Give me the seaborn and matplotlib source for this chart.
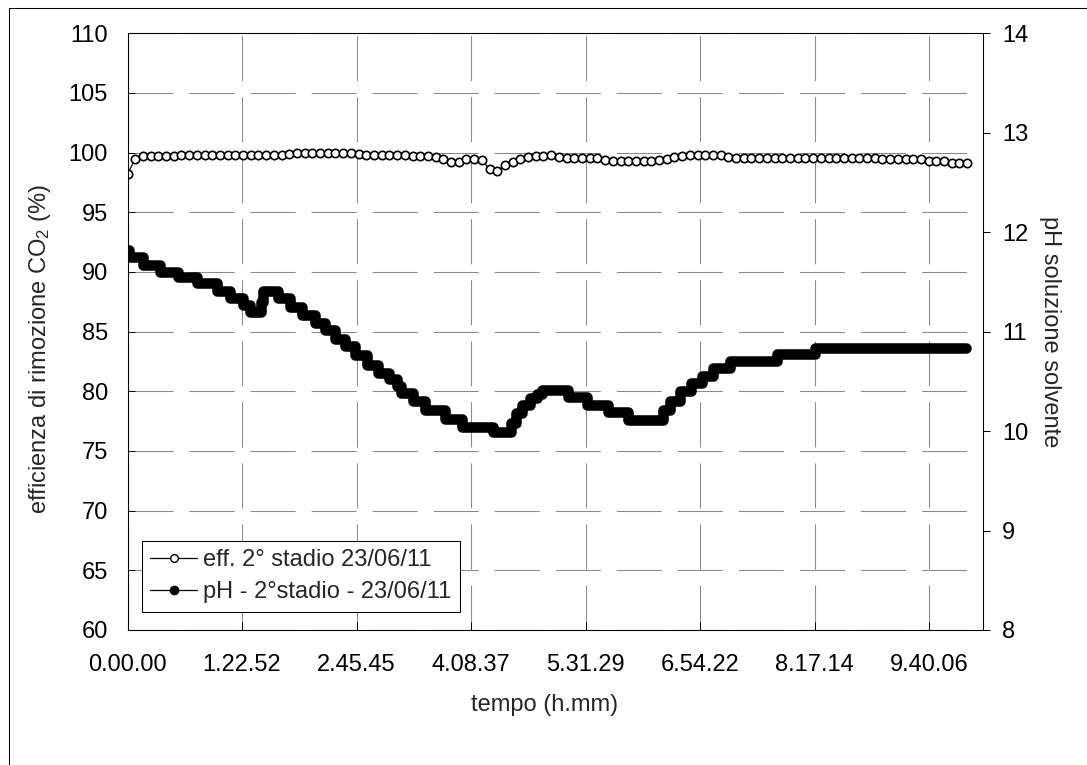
import numpy as np
import pandas as pd
import matplotlib
matplotlib.use("Agg")
import matplotlib.pyplot as plt
from matplotlib.lines import Line2D
import seaborn as sns

# ---------------- data ----------------
x_tick_labels = ["0.00.00", "1.22.52", "2.45.45", "4.08.37",
                 "5.31.29", "6.54.22", "8.17.14", "9.40.06"]
x_max_h = 10.317

eff_step_h = 0.0929  # sampling interval of the efficiency series (hours)
eff_values = [
    98.2, 99.5, 99.7, 99.7, 99.7, 99.7,
    99.75, 99.8, 99.82, 99.82, 99.82, 99.82, 99.82, 99.82, 99.82, 99.82,
    99.82, 99.82, 99.82, 99.82, 99.82, 99.85,
    99.95, 100.0, 100.0, 100.0, 100.0, 100.0, 100.0, 99.95,
    99.85, 99.82, 99.82, 99.82, 99.82, 99.82, 99.8,
    99.72, 99.7, 99.7, 99.65,
    99.5, 99.25, 99.25, 99.45, 99.5, 99.4, 98.6, 98.45, 98.95, 99.25,
    99.45, 99.65, 99.75, 99.75, 99.78,
    99.6, 99.55, 99.55, 99.55, 99.55, 99.55, 99.35,
    99.3, 99.3, 99.3, 99.3, 99.3, 99.3, 99.38, 99.5, 99.65, 99.75,
    99.8, 99.8, 99.8, 99.8, 99.8, 99.6,
    99.55, 99.55, 99.55, 99.55, 99.55, 99.55, 99.55, 99.55, 99.55, 99.55,
    99.55, 99.55, 99.55, 99.55, 99.55, 99.55, 99.55, 99.55, 99.55,
    99.45, 99.45, 99.45, 99.45, 99.45, 99.45,
    99.3, 99.3, 99.3, 99.1, 99.1, 99.1,
]

# pH readings: time (h) at which each new reading level starts, and the level
ph_time_h = [0.0, 0.02, 0.19, 0.39, 0.61, 0.84, 1.08, 1.24, 1.39, 1.48,
             1.61, 1.635, 1.815, 1.96, 2.10, 2.26, 2.38, 2.50, 2.62, 2.74,
             2.89, 3.02, 3.15, 3.25, 3.30, 3.44, 3.59, 3.83, 4.03, 4.41,
             4.625, 4.685, 4.755, 4.85, 4.94, 5.00, 5.31, 5.54, 5.79, 6.04,
             6.46, 6.54, 6.66, 6.80, 6.93, 7.06, 7.27, 7.83, 8.29, 10.11]
ph_values = [11.82, 11.75, 11.67, 11.60, 11.55, 11.49, 11.41, 11.335, 11.27, 11.20,
             11.30, 11.41, 11.335, 11.25, 11.17, 11.09, 11.015, 10.93, 10.855, 10.765,
             10.665, 10.58, 10.52, 10.45, 10.38, 10.30, 10.21, 10.12, 10.04, 9.99,
             10.08, 10.18, 10.26, 10.33, 10.37, 10.41, 10.34, 10.26, 10.19, 10.115,
             10.21, 10.30, 10.40, 10.48, 10.55, 10.63, 10.70, 10.775, 10.84, 10.84]

left_ticks = [60, 65, 70, 75, 80, 85, 90, 95, 100, 105, 110]
right_ticks = [8, 9, 10, 11, 12, 13, 14]

label_eff = "eff. 2° stadio 23/06/11"
label_ph = "pH - 2°stadio - 23/06/11"


def hms_to_hours(s):
    h, m, sec = (int(v) for v in s.split("."))
    return h + m / 60 + sec / 3600


x_ticks = [hms_to_hours(s) for s in x_tick_labels]

df_eff = pd.DataFrame({"t": np.arange(len(eff_values)) * eff_step_h, "eff": eff_values})
df_ph = pd.DataFrame({"t": ph_time_h, "ph": ph_values})

# ---------------- style ----------------
sns.set_style("white")
plt.rcParams["font.family"] = ["Liberation Sans", "DejaVu Sans"]
plt.rcParams["mathtext.default"] = "regular"
FS = 17

fig = plt.figure(figsize=(10.87, 7.65), dpi=100)
W, H = 1087.0, 765.0
L, R, T, B = 127.5, 983.0, 33.3, 630.0
ax = fig.add_axes([L / W, 1 - B / H, (R - L) / W, (B - T) / H])
ax2 = ax.twinx()

sns.lineplot(data=df_eff, x="t", y="eff", ax=ax, color="black", lw=0.9,
             marker="o", markersize=6.0, markerfacecolor="white",
             markeredgecolor="black", markeredgewidth=1.2,
             estimator=None, legend=False, zorder=3)
sns.lineplot(data=df_ph, x="t", y="ph", ax=ax2, color="black", lw=7.6,
             drawstyle="steps-post", solid_joinstyle="round",
             solid_capstyle="round", estimator=None, legend=False)

ax.set_xlim(0, x_max_h)
ax.set_ylim(left_ticks[0], left_ticks[-1])
ax2.set_ylim(right_ticks[0], right_ticks[-1])
ax.set_xticks(x_ticks)
ax.set_xticklabels(x_tick_labels)
ax.set_yticks(left_ticks)
ax.set_yticklabels([str(v) for v in left_ticks])
ax2.set_yticks(right_ticks)
ax2.set_yticklabels([str(v) for v in right_ticks])

dash = (0, (43.2, 15.4))
ax.grid(True, axis="both", color="#8a8a8a", lw=0.75, linestyle=dash)
ax.set_axisbelow(True)

ax.tick_params(axis="y", direction="in", length=5, width=0.75, pad=14,
               labelsize=FS, left=True, right=False, colors="black")
ax.tick_params(axis="x", direction="in", length=6, width=0.75, pad=17,
               labelsize=FS, bottom=True, top=False, colors="black")
ax2.tick_params(axis="y", direction="out", length=5, width=0.75, pad=8.5,
                labelsize=FS, right=True, left=False, colors="black")

for a in (ax, ax2):
    for sp in a.spines.values():
        sp.set_color("black")
        sp.set_linewidth(0.75)
        sp.set_visible(True)

ax.set_xlabel("tempo (h.mm)", fontsize=FS)
ax.xaxis.set_label_coords(0.488, -0.1257)
ax.xaxis.label.set_va("center")
ax.set_ylabel("efficienza di rimozione CO$_2$ (%)", fontsize=FS)
ax.yaxis.set_label_coords(-0.1023, 0.47)
ax.yaxis.label.set_va("center")
ax2.set_ylabel("pH soluzione solvente", fontsize=FS, rotation=-90)
ax2.yaxis.set_label_coords(1.0783, 0.5)
ax2.yaxis.label.set_va("center")
ax2.yaxis.label.set_ha("center")

handles = [
    Line2D([0], [0], color="black", lw=0.9, marker="o", markersize=5.5,
           markerfacecolor="white", markeredgecolor="black", markeredgewidth=1.0),
    Line2D([0], [0], color="black", lw=0.9, marker="o", markersize=6,
           markerfacecolor="black", markeredgecolor="black"),
]
leg = ax2.legend(handles, [label_eff, label_ph], loc="lower left",
                 bbox_to_anchor=(0.0166, 0.0307), borderaxespad=0,
                 frameon=True, fancybox=False, edgecolor="black", framealpha=1,
                 fontsize=FS, handlelength=2.0, handletextpad=0.25,
                 labelspacing=0.45, borderpad=0.35)
leg.get_frame().set_linewidth(0.75)

# outer chart-area border (left and top edges visible)
fig.add_artist(Line2D([8.5 / W, 8.5 / W], [0, 1 - 7.5 / H], transform=fig.transFigure,
                      color="black", lw=0.75))
fig.add_artist(Line2D([8.5 / W, 1], [1 - 7.5 / H, 1 - 7.5 / H], transform=fig.transFigure,
                      color="black", lw=0.75))

fig.savefig("out.png", dpi=100)
